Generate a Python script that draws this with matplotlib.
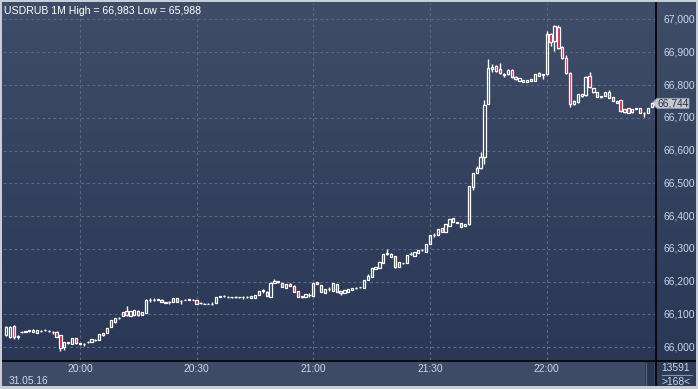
import matplotlib
matplotlib.use("Agg")
import matplotlib.pyplot as plt
import numpy as np
from matplotlib.patches import Rectangle, Polygon

# ---------------- data ----------------
symbol = "USDRUB 1M"
date_label = "31.05.16"
start_minute = 19 * 60 + 41          # first candle at 19:41
x_tick_labels = ["20:00", "20:30", "21:00", "21:30", "22:00"]
y_ticks = [66000, 66100, 66200, 66300, 66400, 66500, 66600, 66700, 66800, 66900, 67000]
last_price = 66744
counter_top = "13591"
counter_bottom = ">168<"

opens = [66037, 66031, 66064, 66031, 66046, 66047, 66048, 66052, 66043, 66050,
         66051, 66049, 66047, 66046, 66037, 66000, 66012, 66009, 66027, 66011,
         66009, 66014, 66015, 66020, 66021, 66037, 66043, 66061, 66076, 66088,
         66095, 66110, 66095, 66098, 66110, 66098, 66104, 66143, 66144, 66144,
         66144, 66134, 66137, 66137, 66150, 66140, 66144, 66144, 66145, 66144,
         66134, 66131, 66132, 66131, 66134, 66153, 66156, 66153, 66152, 66153,
         66152, 66153, 66152, 66150, 66150, 66160, 66171, 66168, 66153, 66195,
         66201, 66195, 66180, 66192, 66186, 66171, 66153, 66153, 66158, 66156,
         66198, 66189, 66165, 66176, 66171, 66192, 66171, 66165, 66168, 66174,
         66180, 66182, 66180, 66205, 66214, 66238, 66241, 66256, 66284, 66284,
         66278, 66244, 66256, 66256, 66283, 66278, 66287, 66296, 66290, 66316,
         66342, 66342, 66363, 66351, 66369, 66394, 66382, 66379, 66369, 66375,
         66488, 66531, 66546, 66580, 66742, 66849, 66858, 66849, 66830, 66833,
         66846, 66818, 66812, 66809, 66809, 66812, 66812, 66837, 66832, 66833,
         66956, 66934, 66977, 66916, 66882, 66837, 66742, 66748, 66766, 66769,
         66827, 66778, 66778, 66763, 66766, 66778, 66763, 66745, 66754, 66717,
         66730, 66717, 66727, 66730, 66715, 66714, 66733]
highs = [66063, 66064, 66068, 66037, 66049, 66050, 66053, 66054, 66053, 66052,
         66054, 66052, 66049, 66048, 66038, 66016, 66016, 66028, 66028, 66013,
         66012, 66018, 66025, 66025, 66041, 66044, 66059, 66083, 66090, 66092,
         66108, 66125, 66111, 66114, 66112, 66108, 66147, 66150, 66149, 66148,
         66146, 66138, 66139, 66151, 66151, 66143, 66146, 66148, 66147, 66145,
         66136, 66133, 66134, 66137, 66154, 66157, 66158, 66155, 66154, 66155,
         66154, 66156, 66155, 66157, 66160, 66172, 66176, 66170, 66198, 66208,
         66203, 66196, 66193, 66194, 66190, 66172, 66157, 66163, 66165, 66196,
         66200, 66190, 66178, 66183, 66196, 66193, 66172, 66175, 66178, 66181,
         66182, 66184, 66206, 66222, 66242, 66245, 66261, 66285, 66300, 66286,
         66279, 66261, 66258, 66282, 66290, 66291, 66297, 66298, 66315, 66343,
         66348, 66361, 66364, 66376, 66392, 66395, 66383, 66380, 66376, 66493,
         66532, 66552, 66595, 66754, 66879, 66865, 66862, 66867, 66836, 66848,
         66848, 66826, 66822, 66816, 66816, 66819, 66834, 66840, 66835, 66965,
         66960, 66982, 66983, 66918, 66891, 66840, 66753, 66774, 66774, 66826,
         66840, 66792, 66779, 66767, 66779, 66785, 66764, 66752, 66755, 66728,
         66731, 66728, 66731, 66731, 66717, 66731, 66746]
lows = [66035, 66028, 66025, 66025, 66044, 66045, 66046, 66045, 66042, 66046,
        66049, 66046, 66040, 66030, 65988, 65991, 66010, 66008, 66010, 66006,
        66003, 66012, 66014, 66019, 66020, 66035, 66042, 66060, 66074, 66086,
        66094, 66096, 66094, 66097, 66096, 66097, 66103, 66138, 66140, 66143,
        66136, 66133, 66130, 66136, 66136, 66131, 66142, 66143, 66143, 66130,
        66132, 66130, 66130, 66128, 66133, 66152, 66154, 66151, 66151, 66150,
        66151, 66146, 66151, 66149, 66149, 66159, 66164, 66155, 66152, 66194,
        66196, 66182, 66179, 66185, 66167, 66152, 66151, 66152, 66153, 66155,
        66191, 66167, 66164, 66171, 66170, 66167, 66160, 66164, 66167, 66173,
        66178, 66180, 66179, 66204, 66213, 66237, 66240, 66255, 66282, 66274,
        66240, 66243, 66254, 66255, 66280, 66277, 66286, 66294, 66289, 66315,
        66336, 66341, 66350, 66350, 66368, 66381, 66378, 66365, 66368, 66374,
        66480, 66530, 66545, 66560, 66741, 66840, 66840, 66835, 66824, 66831,
        66822, 66816, 66811, 66808, 66808, 66811, 66811, 66826, 66818, 66830,
        66919, 66904, 66910, 66880, 66835, 66733, 66740, 66746, 66764, 66767,
        66792, 66777, 66762, 66761, 66765, 66759, 66750, 66744, 66719, 66716,
        66713, 66716, 66726, 66713, 66702, 66713, 66732]
closes = [66061, 66061, 66031, 66035, 66047, 66048, 66052, 66046, 66052, 66049,
          66052, 66049, 66046, 66031, 65997, 66015, 66015, 66027, 66012, 66009,
          66010, 66015, 66024, 66021, 66040, 66043, 66058, 66082, 66089, 66089,
          66107, 66098, 66110, 66113, 66098, 66107, 66144, 66144, 66143, 66147,
          66137, 66137, 66136, 66150, 66137, 66141, 66143, 66147, 66144, 66131,
          66133, 66132, 66131, 66132, 66153, 66156, 66155, 66152, 66153, 66152,
          66153, 66152, 66153, 66156, 66159, 66171, 66175, 66156, 66195, 66201,
          66198, 66183, 66192, 66186, 66168, 66153, 66156, 66162, 66159, 66195,
          66192, 66168, 66177, 66177, 66195, 66168, 66165, 66174, 66177, 66180,
          66181, 66183, 66205, 66217, 66241, 66244, 66260, 66284, 66287, 66275,
          66244, 66260, 66257, 66281, 66284, 66290, 66296, 66295, 66314, 66342,
          66341, 66360, 66351, 66375, 66391, 66382, 66379, 66366, 66375, 66492,
          66531, 66546, 66580, 66739, 66852, 66855, 66843, 66837, 66835, 66846,
          66824, 66824, 66821, 66815, 66815, 66818, 66833, 66828, 66833, 66956,
          66931, 66980, 66913, 66882, 66837, 66742, 66751, 66772, 66772, 66824,
          66794, 66791, 66763, 66766, 66778, 66760, 66751, 66751, 66720, 66727,
          66714, 66727, 66730, 66714, 66714, 66730, 66744]

# ---------------- layout (pixels) ----------------
W, H = 698, 389
PL, PR, PT, PB = 3, 655, 3, 360        # plot area in pixels
px_per_min = 3.89
x0_px = 6.0                             # pixel x of first candle
px_per_unit = 0.3275                    # pixels per price unit
y66000_px = 347.0

def fmt(v):
    return f"{v:,.0f}"

fig = plt.figure(figsize=(W / 100, H / 100), dpi=100)

# background axes in pixel coords
bg = fig.add_axes([0, 0, 1, 1])
bg.set_xlim(0, W)
bg.set_ylim(H, 0)
bg.axis("off")
top_c = np.array([64, 77, 104]) / 255
bot_c = np.array([42, 55, 85]) / 255
t = np.linspace(0, 1, 256)[:, None]
grad = top_c[None, None, :] * (1 - t[..., None]) + bot_c[None, None, :] * t[..., None]
grad = np.repeat(grad, 2, axis=1)
bg.imshow(grad, extent=[0, W, PB, 0], aspect="auto", zorder=0)
# bottom strip
bg.add_patch(Rectangle((0, PB), W, H - PB, facecolor="#3f4b66", edgecolor="none", zorder=1))
bg.add_patch(Rectangle((PR, PB), W - PR, H - PB, facecolor="#2e3b58", edgecolor="none", zorder=1))
bg.add_patch(Rectangle((645, PB + 2), 9, H - PB - 5, facecolor="#2a3550", edgecolor="none", zorder=1))
bg.plot([646, 646], [PB + 3, H - 4], color="#5a6680", lw=0.8, zorder=2)
# separating black lines
bg.plot([PR + 0.5, PR + 0.5], [0, H], color="black", lw=1.2, zorder=3)
bg.plot([0, W], [PB + 0.5, PB + 0.5], color="black", lw=1.2, zorder=3)
# outer border
border = "#c9ced6"
bg.add_patch(Rectangle((0, 0), W, 2, facecolor=border, edgecolor="none", zorder=4))
bg.add_patch(Rectangle((0, H - 3), W, 3, facecolor=border, edgecolor="none", zorder=4))
bg.add_patch(Rectangle((0, 0), 2, H, facecolor=border, edgecolor="none", zorder=4))
bg.add_patch(Rectangle((W - 2, 0), 2, H, facecolor=border, edgecolor="none", zorder=4))

# ---------------- main candle axes ----------------
ax = fig.add_axes([PL / W, (H - PB) / H, (PR - PL) / W, (PB - PT) / H])
ax.patch.set_alpha(0)
xmin = (PL - x0_px) / px_per_min
xmax = (PR - x0_px) / px_per_min
ymax = 66000 + (y66000_px - PT) / px_per_unit
ymin = 66000 + (y66000_px - PB) / px_per_unit
ax.set_xlim(xmin, xmax)
ax.set_ylim(ymin, ymax)
for s in ax.spines.values():
    s.set_visible(False)
ax.set_xticks([])
ax.set_yticks([])

grid_c = "#5c6a88"
for v in y_ticks:
    ax.axhline(v, color=grid_c, lw=0.8, ls=(0, (2.5, 2.5)), zorder=1)
tick_pos = []
for lab in x_tick_labels:
    hh, mm = map(int, lab.split(":"))
    tick_pos.append(hh * 60 + mm - start_minute)
for p in tick_pos:
    ax.axvline(p, color=grid_c, lw=0.8, ls=(0, (2.5, 2.5)), zorder=1)

O = np.array(opens, float)
Hh = np.array(highs, float)
L = np.array(lows, float)
C = np.array(closes, float)
xs = np.arange(len(O))
top = np.maximum(O, C)
bot = np.minimum(O, C)
up = C >= O

ax.vlines(xs, top, Hh, color="white", lw=1.0, zorder=3)
ax.vlines(xs, L, bot, color="white", lw=1.0, zorder=3)
bw = 0.58
ax.bar(xs[up], (top - bot)[up], bottom=bot[up], width=bw, facecolor="none",
       edgecolor="white", linewidth=0.9, zorder=4)
ax.bar(xs[~up], (top - bot)[~up], bottom=bot[~up], width=bw, facecolor="#e0143f",
       edgecolor="white", linewidth=0.9, zorder=4)

# ---------------- texts ----------------
font = "Liberation Sans"
lab_c = "#cdd7ea"
fig.text(4 / W, 1 - 11 / H, f"{symbol} High = {fmt(max(highs))} Low = {fmt(min(lows))}",
         color="white", fontsize=7.6, family=font, va="center", ha="left")

def ypx(v):
    return y66000_px - (v - 66000) * px_per_unit

for v in y_ticks:
    bg.text(663, ypx(v), fmt(v), color=lab_c, fontsize=7.4, family=font,
            va="center", ha="left", zorder=5)

for p, lab in zip(tick_pos, x_tick_labels):
    bg.text(x0_px + p * px_per_min, 369, lab, color=lab_c, fontsize=7.4, family=font,
            va="center", ha="center", zorder=5)
bg.text(9, 381, date_label, color=lab_c, fontsize=7.4, family=font, va="center",
        ha="left", zorder=5)

bg.text(676, 368, counter_top, color=lab_c, fontsize=7.4, family=font, va="center",
        ha="center", zorder=5)
bg.plot([662, 692], [375, 375], color="#8c96aa", lw=0.8, zorder=5)
bg.text(676, 382, counter_bottom, color=lab_c, fontsize=7.4, family=font, va="center",
        ha="center", zorder=5)

# last price marker
yp = ypx(last_price)
marker = Polygon([[652, yp], [657, yp - 5], [689, yp - 5], [689, yp + 5], [657, yp + 5]],
                 closed=True, facecolor="#c4c9d2", edgecolor="#9aa1ad", lw=0.6, zorder=6)
bg.add_patch(marker)
bg.text(658, yp, fmt(last_price), color="#2a3040", fontsize=7.4, family=font,
        va="center", ha="left", zorder=7)

fig.savefig("out.png", dpi=100)
